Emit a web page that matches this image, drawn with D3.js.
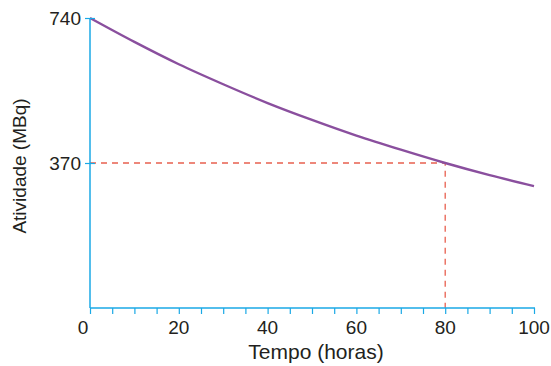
<!DOCTYPE html>
<html><head><meta charset="utf-8">
<script src="https://cdn.jsdelivr.net/npm/d3@7"></script>
<style>body{margin:0;background:#fff}svg{display:block}</style>
</head><body>
<svg id="c" width="551" height="366"></svg>
<script>
const hours = [0, 10, 20, 30, 40, 50, 60, 70, 80, 90, 100];
const activity = [740, 679, 622, 571, 523, 480, 440, 404, 370, 339, 311];
const yTicks = [740, 370];
const xTickLabels = [0, 20, 40, 60, 80, 100];
const xMinorTicks = [0,5,10,15,20,25,30,35,40,45,50,55,60,65,70,75,80,85,90,95,100];
const halfPoint = {t: 80, a: 370};

const svg = d3.select("#c");
const font = "Liberation Sans, Arial, sans-serif";
const x = d3.scaleLinear().domain([0, 100]).range([90, 534]);
const y = d3.scaleLinear().domain([0, 740]).range([308, 18]);

const g = svg.append("g");
// dashed guides
g.append("path")
  .attr("d", `M${x(0)},${y(halfPoint.a)}H${x(halfPoint.t)}V${y(0)}`)
  .attr("fill", "none").attr("stroke", "#e8604f").attr("stroke-width", 1.3)
  .attr("stroke-dasharray", "6,5");

// curve
const line = d3.line().x((d, i) => x(hours[i])).y(d => y(d)).curve(d3.curveMonotoneX);
g.append("path").datum(activity).attr("d", line)
  .attr("fill", "none").attr("stroke", "#8a4f9e").attr("stroke-width", 2.4);

// axes
const axisColor = "#1aa9e6";
const xa = g.append("g").attr("transform", `translate(0,${y(0)})`)
  .call(d3.axisBottom(x).tickValues(xMinorTicks).tickSize(6).tickFormat(""));
xa.select(".domain").attr("stroke", axisColor).attr("stroke-width", 1.5).attr("d", `M${x(0)},0H${x(100)+1}`);
xa.selectAll(".tick line").attr("stroke", axisColor).attr("stroke-width", 1.2);

const ya = g.append("g").attr("transform", `translate(${x(0)},0)`)
  .call(d3.axisLeft(y).tickValues(yTicks).tickSize(5).tickFormat(""));
ya.select(".domain").attr("stroke", axisColor).attr("stroke-width", 1.5).attr("d", `M0,${y(740)}V${y(0)}`);
ya.selectAll(".tick line").attr("stroke", axisColor).attr("stroke-width", 1.2).attr("x1", 5).attr("x2", -5);

// labels
g.selectAll(".yl").data(yTicks).join("text")
  .attr("x", 81).attr("y", d => y(d) + 7).attr("text-anchor", "end")
  .attr("font-family", font).attr("font-size", 19).attr("fill", "#231f20").text(d => d);
g.selectAll(".xl").data(xTickLabels).join("text")
  .attr("x", d => d === 0 ? x(d) - 7 : x(d)).attr("y", 334).attr("text-anchor", "middle")
  .attr("font-family", font).attr("font-size", 19).attr("fill", "#231f20").text(d => d);
g.append("text").attr("x", 316).attr("y", 359).attr("text-anchor", "middle")
  .attr("font-family", font).attr("font-size", 21).attr("fill", "#231f20").text("Tempo (horas)");
g.append("text").attr("transform", `translate(26,${y(370)+3}) rotate(-90)`).attr("text-anchor", "middle")
  .attr("font-family", font).attr("font-size", 19).attr("fill", "#231f20").text("Atividade (MBq)");
</script>
</body></html>
